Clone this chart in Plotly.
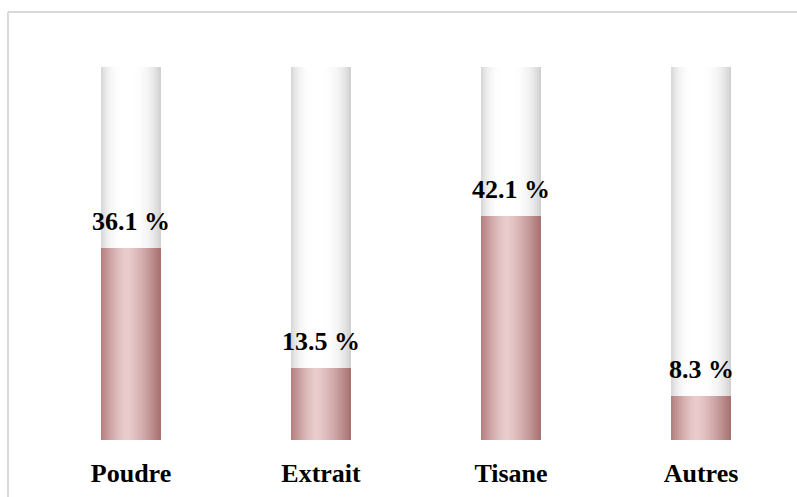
import plotly.graph_objects as go
import numpy as np

categories = ["Poudre", "Extrait", "Tisane", "Autres"]
values = [36.1, 13.5, 42.1, 8.3]
labels = ["36.1 %", "13.5 %", "42.1 %", "8.3 %"]
axis_max = 70

W, H = 797, 497
L, R, T, B = 36, 1, 67, 57
plot_w = W - L - R
plot_h = H - T - B

bar_w = 60 / 190.0
N = 30
sw = bar_w / N

def mix(c1, c2, g):
    return "rgb(%d,%d,%d)" % tuple(int(round(a + (b - a) * g)) for a, b in zip(c1, c2))

fig = go.Figure()
peak = 0.42
for i in range(N):
    t = (i + 0.5) / N
    d = abs(t - peak) / (peak if t < peak else 1 - peak)
    g_bg = d ** 3
    edge_bg = (212, 212, 212) if t < peak else (205, 205, 205)
    fig.add_trace(go.Bar(
        x=categories, y=[axis_max] * len(categories),
        width=sw * 1.15, offset=-bar_w / 2 + i * sw,
        marker=dict(color=mix((255, 255, 255), edge_bg, g_bg), line=dict(width=0)),
        hoverinfo="skip", showlegend=False))
for i in range(N):
    t = (i + 0.5) / N
    d = abs(t - peak) / (peak if t < peak else 1 - peak)
    g = d ** 1.4
    edge = (178, 125, 125) if t < peak else (165, 110, 110)
    fig.add_trace(go.Bar(
        x=categories, y=values,
        width=sw * 1.15, offset=-bar_w / 2 + i * sw,
        marker=dict(color=mix((234, 204, 204), edge, g), line=dict(width=0)),
        hoverinfo="skip", showlegend=False))

for c, v, lab in zip(categories, values, labels):
    fig.add_annotation(x=c, y=v, text="<b>%s</b>" % lab, showarrow=False,
                       yanchor="bottom", yshift=10,
                       font=dict(family="Liberation Serif", size=26, color="black"))

bx = (8 - L) / plot_w
by = (H - B - 12) / plot_h
fig.add_shape(type="line", xref="paper", yref="paper", x0=bx, x1=(W - L) / plot_w + 0.01,
              y0=by, y1=by, line=dict(color="#d9d9d9", width=2))
fig.add_shape(type="line", xref="paper", yref="paper", x0=bx, x1=bx,
              y0=by, y1=-0.5, line=dict(color="#d9d9d9", width=2))

fig.update_layout(
    width=W, height=H, margin=dict(l=L, r=R, t=T, b=B),
    barmode="overlay", bargap=0,
    plot_bgcolor="white", paper_bgcolor="white",
    xaxis=dict(range=[-0.5, 3.5], showgrid=False, zeroline=False, showline=False,
               tickfont=dict(family="Liberation Serif", size=26, color="black"),
               ticks="outside", ticklen=10, tickcolor="rgba(0,0,0,0)",
               tickvals=categories, ticktext=["<b>%s</b>" % c for c in categories]),
    yaxis=dict(range=[0, axis_max], visible=False),
)

fig.write_html("out.html")
